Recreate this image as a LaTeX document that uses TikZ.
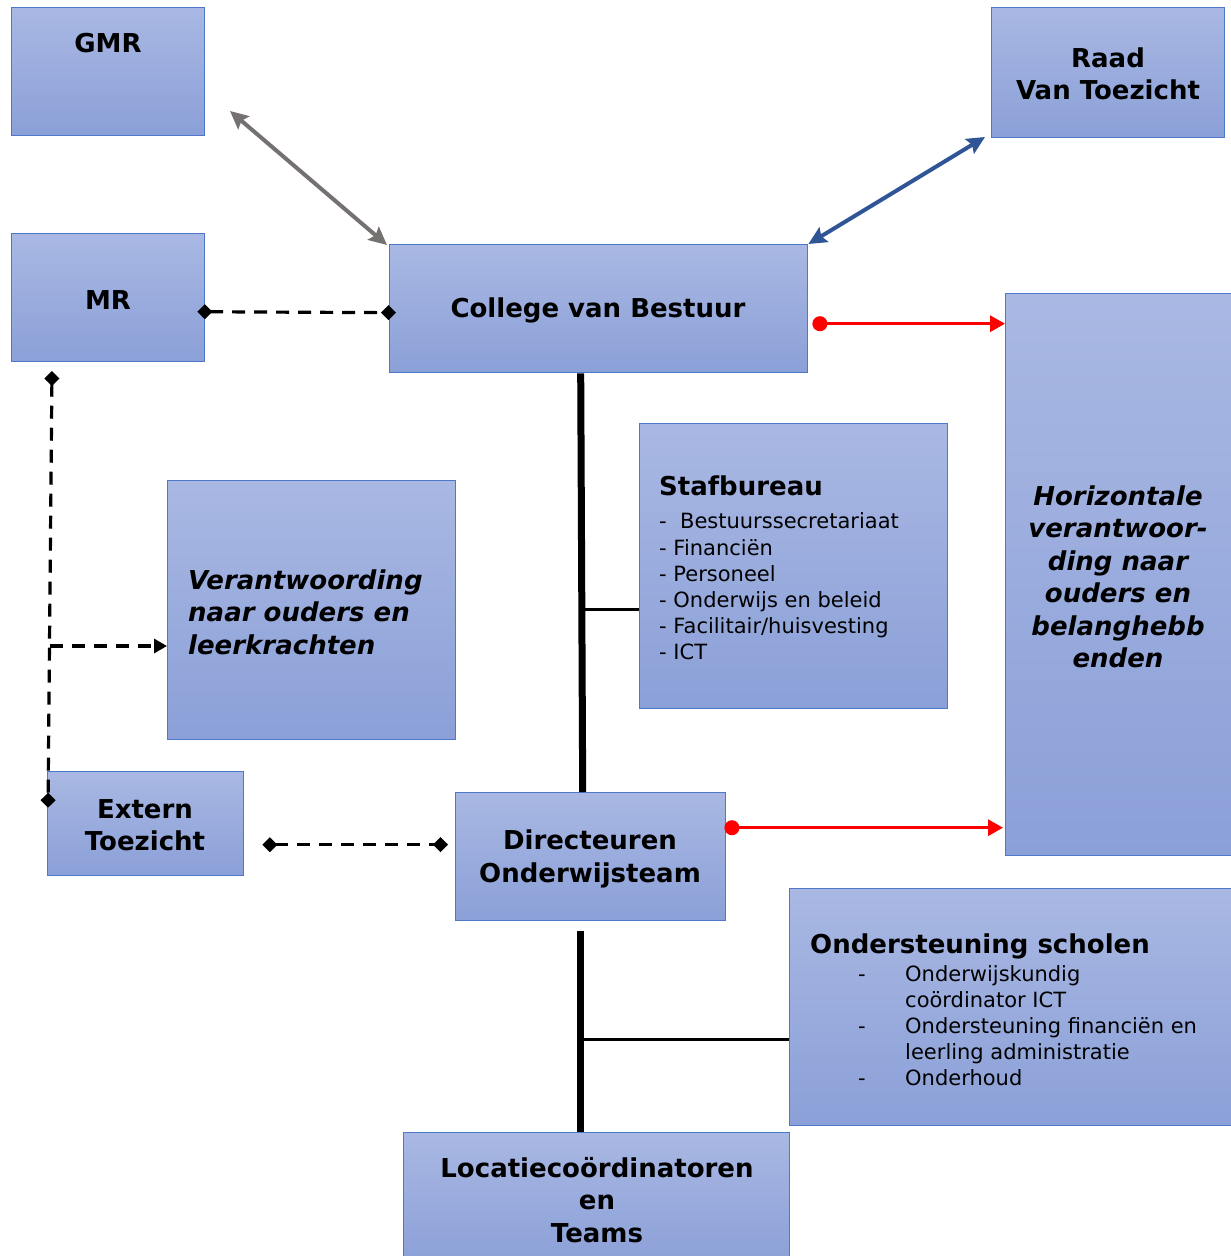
\documentclass[tikz,border=0pt]{standalone}
\usepackage{fontspec}
\setmainfont{DejaVu Sans}
\usetikzlibrary{arrows.meta,calc}
\definecolor{boxtop}{HTML}{A9B8E3}
\definecolor{boxbot}{HTML}{8BA0D8}
\definecolor{boxline}{HTML}{4F78CA}
\definecolor{grayarrow}{HTML}{767171}
\definecolor{bluearrow}{HTML}{2F5597}
\definecolor{redline}{HTML}{FF0000}
\begin{document}
\begin{tikzpicture}[x=1pt,y=-1pt,
  box/.style={draw=boxline, line width=1.4pt, top color=boxtop, bottom color=boxbot, inner sep=0pt, anchor=north west},
  btitle/.style={font=\fontsize{26}{32.5}\selectfont\bfseries, align=center, inner sep=0pt},
  bitalic/.style={font=\fontsize{26}{32.5}\selectfont\bfseries\itshape, inner sep=0pt},
  listtext/.style={font=\fontsize{21}{26}\selectfont, inner sep=0pt, anchor=base west},
  headtext/.style={font=\fontsize{26}{32.5}\selectfont\bfseries, inner sep=0pt, anchor=base west},
  dashline/.style={draw=black, line width=3.2pt, dash pattern=on 13pt off 9pt},
  dia/.style={{Diamond[length=15pt,width=15pt]}-{Diamond[length=15pt,width=15pt]}},
  twoway/.style={line width=4pt, {Stealth[length=18pt,width=17pt,inset=3pt]}-{Stealth[length=18pt,width=17pt,inset=3pt]}},
  redarrow/.style={draw=redline, line width=3.2pt, {Circle[length=15pt]}-{Triangle[length=15pt,width=16pt]}},
  thickline/.style={draw=black, line width=7pt},
  thinline/.style={draw=black, line width=3pt}
]
\useasboundingbox (0,0) rectangle (1231,1256);
\fill[white] (0,0) rectangle (1231,1256);

% boxes
\node[box, minimum width=193pt, minimum height=128pt] (gmr) at (11,7) {};
\node[box, minimum width=233pt, minimum height=130pt] (raad) at (991,7) {};
\node[box, minimum width=193pt, minimum height=128pt] (mr) at (11,233) {};
\node[box, minimum width=418pt, minimum height=128pt] (college) at (389,244) {};
\node[box, minimum width=226pt, minimum height=562pt] (hor) at (1005,293) {};
\node[box, minimum width=308pt, minimum height=285pt] (staf) at (639,423) {};
\node[box, minimum width=288pt, minimum height=259pt] (verant) at (167,480) {};
\node[box, minimum width=196pt, minimum height=104pt] (ext) at (47,771) {};
\node[box, minimum width=270pt, minimum height=128pt] (dir) at (455,792) {};
\node[box, minimum width=442pt, minimum height=237pt] (onder) at (789,888) {};
\node[box, minimum width=386pt, minimum height=132pt] (loc) at (403,1132) {};

% titles
\node[btitle] (gmrt) at (108,43) {GMR};
\node[btitle] (raadt) at (1108,74) {Raad\\Van Toezicht};
\node[btitle] (mrt) at (108,300) {MR};
\node[btitle] (collt) at (598,310) {College van Bestuur};
\node[bitalic, align=center] (hort) at (1118,577) {Horizontale\\verantwoor-\\ding naar\\ouders en\\belanghebb\\enden};
\node[bitalic, align=left, anchor=west] (verantt) at (188,612) {Verantwoording\\naar ouders en\\leerkrachten};
\node[btitle] (extt) at (145,825) {Extern\\Toezicht};
\node[btitle] (dirt) at (590,859) {Directeuren\\Onderwijsteam};
\node[btitle] (loct) at (597,1200) {Locatiecoördinatoren\\en\\Teams};

% Stafbureau list
\node[headtext] (stafh) at (659,495) {Stafbureau};
\node[listtext] (s1) at (659,528) {-\ \ Bestuurssecretariaat};
\node[listtext] (s2) at (659,555) {- Financiën};
\node[listtext] (s3) at (659,581) {- Personeel};
\node[listtext] (s4) at (659,607) {- Onderwijs en beleid};
\node[listtext] (s5) at (659,633) {- Facilitair/huisvesting};
\node[listtext] (s6) at (659,659) {- ICT};

% Ondersteuning list
\node[headtext] (onderh) at (810,953) {Ondersteuning scholen};
\node[listtext] (d1) at (858,981) {-};
\node[listtext] (o1) at (905,981) {Onderwijskundig};
\node[listtext] (o2) at (905,1007) {coördinator ICT};
\node[listtext] (d3) at (858,1033) {-};
\node[listtext] (o3) at (905,1033) {Ondersteuning financiën en};
\node[listtext] (o4) at (905,1059) {leerling administratie};
\node[listtext] (d5) at (858,1085) {-};
\node[listtext] (o5) at (905,1085) {Onderhoud};

% coordinates for free ends
\coordinate (g1) at (230,111);
\coordinate (r1) at (985,137);
\coordinate (vtop) at (52,371);
\coordinate (vb) at (50,646);

% two-way arrows
\draw[twoway, draw=grayarrow, color=grayarrow] (g1) -- ([xshift=-2pt,yshift=-1pt]college.north west);
\draw[twoway, draw=bluearrow, color=bluearrow] (college.north east) -- (r1);

% dashed connectors
\draw[dashline, dia] ([xshift=-8pt,yshift=-14pt]mr.east) -- ([xshift=7pt,yshift=-4pt]college.west);
\draw[dashline, dia] (vtop) -- ([xshift=1pt,yshift=16pt]ext.west);
\draw[dashline, -{Triangle[length=13pt,width=14pt]}] (vb) -- (vb -| verant.west);
\draw[dashline, dia] ([xshift=18pt,yshift=-21pt]ext.east) -- ([xshift=-7pt,yshift=12pt]dir.west);

% red arrows
\coordinate (c1) at ([xshift=4pt,yshift=-15pt]college.east);
\draw[redarrow] (c1) -- (c1 -| hor.west);
\coordinate (c2) at ([xshift=-2pt,yshift=29pt]dir.east);
\draw[redarrow] (c2) -- ([xshift=-2pt]c2 -| hor.west);

% black structure lines
\draw[thickline] ([xshift=-18pt]college.south) -- ([xshift=-8pt]dir.north);
\draw[thinline] ([yshift=-43.5pt]staf.west) -- ++(-58,0);
\draw[thickline] ([xshift=-10pt,yshift=-10pt]dir.south) -- ([xshift=-16pt]loc.north);
\draw[thinline] ([yshift=-32.5pt]onder.west) -- ++(-210,0);
\end{tikzpicture}
\end{document}
